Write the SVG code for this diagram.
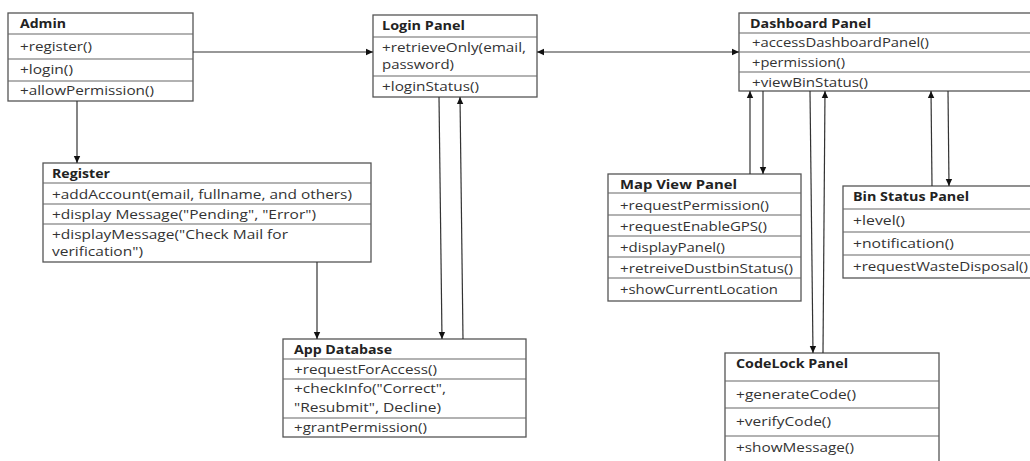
<svg xmlns="http://www.w3.org/2000/svg" width="1030" height="461" viewBox="0 0 1030 461">
<style>
.box{fill:#fff;stroke:#555;stroke-width:1.3}
.div{stroke:#666;stroke-width:1.2}
text{font-family:"Open Sans","Liberation Sans",sans-serif;font-size:12.5px;fill:#333}
.h{font-weight:bold;fill:#222}
.c{stroke:#333;stroke-width:1.2;fill:none}
</style>
<defs>
<marker id="ah" markerWidth="8" markerHeight="8" refX="7" refY="4" orient="auto" markerUnits="userSpaceOnUse"><path d="M0,0.8 L7,4 L0,7.2 z" fill="#111"/></marker>
<marker id="as" markerWidth="8" markerHeight="8" refX="7" refY="4" orient="auto-start-reverse" markerUnits="userSpaceOnUse"><path d="M0,0.8 L7,4 L0,7.2 z" fill="#111"/></marker>
</defs>
<rect width="1030" height="461" fill="#fff"/>

<g id="admin">
<rect class="box" x="8" y="13" width="185" height="88"/>
<line class="div" x1="8" y1="34" x2="193" y2="34"/>
<line class="div" x1="8" y1="59" x2="193" y2="59"/>
<line class="div" x1="8" y1="81" x2="193" y2="81"/>
<text class="h" x="20" y="28" textLength="46" lengthAdjust="spacingAndGlyphs">Admin</text>
<text x="20" y="51" textLength="72" lengthAdjust="spacingAndGlyphs">+register()</text>
<text x="20" y="74" textLength="53" lengthAdjust="spacingAndGlyphs">+login()</text>
<text x="20" y="95" textLength="134" lengthAdjust="spacingAndGlyphs">+allowPermission()</text>
</g>

<g id="login">
<rect class="box" x="373" y="15" width="164" height="82"/>
<line class="div" x1="373" y1="37" x2="537" y2="37"/>
<line class="div" x1="373" y1="76" x2="537" y2="76"/>
<text class="h" x="382" y="30" textLength="83" lengthAdjust="spacingAndGlyphs">Login Panel</text>
<text x="382" y="52" textLength="144" lengthAdjust="spacingAndGlyphs">+retrieveOnly(email,</text>
<text x="382" y="69" textLength="72" lengthAdjust="spacingAndGlyphs">password)</text>
<text x="382" y="91" textLength="97" lengthAdjust="spacingAndGlyphs">+loginStatus()</text>
</g>

<g id="dashboard">
<rect class="box" x="739" y="13" width="300" height="78"/>
<line class="div" x1="739" y1="33" x2="1039" y2="33"/>
<line class="div" x1="739" y1="52" x2="1039" y2="52"/>
<line class="div" x1="739" y1="72" x2="1039" y2="72"/>
<text class="h" x="750" y="28" textLength="121" lengthAdjust="spacingAndGlyphs">Dashboard Panel</text>
<text x="752" y="47" textLength="177" lengthAdjust="spacingAndGlyphs">+accessDashboardPanel()</text>
<text x="752" y="67" textLength="93" lengthAdjust="spacingAndGlyphs">+permission()</text>
<text x="752" y="87" textLength="116" lengthAdjust="spacingAndGlyphs">+viewBinStatus()</text>
</g>

<g id="register">
<rect class="box" x="43" y="163" width="328" height="99"/>
<line class="div" x1="43" y1="183" x2="371" y2="183"/>
<line class="div" x1="43" y1="204" x2="371" y2="204"/>
<line class="div" x1="43" y1="224" x2="371" y2="224"/>
<text class="h" x="52" y="178" textLength="58" lengthAdjust="spacingAndGlyphs">Register</text>
<text x="52" y="199" textLength="300" lengthAdjust="spacingAndGlyphs">+addAccount(email, fullname, and others)</text>
<text x="52" y="219" textLength="264" lengthAdjust="spacingAndGlyphs">+display Message("Pending", "Error")</text>
<text x="52" y="239" textLength="236" lengthAdjust="spacingAndGlyphs">+displayMessage("Check Mail for</text>
<text x="52" y="256" textLength="91" lengthAdjust="spacingAndGlyphs">verification")</text>
</g>

<g id="mapview">
<rect class="box" x="608" y="174" width="193" height="127"/>
<line class="div" x1="608" y1="193" x2="801" y2="193"/>
<line class="div" x1="608" y1="215" x2="801" y2="215"/>
<line class="div" x1="608" y1="236" x2="801" y2="236"/>
<line class="div" x1="608" y1="257" x2="801" y2="257"/>
<line class="div" x1="608" y1="278" x2="801" y2="278"/>
<text class="h" x="620" y="189" textLength="117" lengthAdjust="spacingAndGlyphs">Map View Panel</text>
<text x="620" y="210" textLength="149" lengthAdjust="spacingAndGlyphs">+requestPermission()</text>
<text x="620" y="231" textLength="147" lengthAdjust="spacingAndGlyphs">+requestEnableGPS()</text>
<text x="620" y="252" textLength="105" lengthAdjust="spacingAndGlyphs">+displayPanel()</text>
<text x="620" y="273" textLength="173" lengthAdjust="spacingAndGlyphs">+retreiveDustbinStatus()</text>
<text x="620" y="294" textLength="158" lengthAdjust="spacingAndGlyphs">+showCurrentLocation</text>
</g>

<g id="binstatus">
<rect class="box" x="843" y="186" width="196" height="92"/>
<line class="div" x1="843" y1="209" x2="1039" y2="209"/>
<line class="div" x1="843" y1="232" x2="1039" y2="232"/>
<line class="div" x1="843" y1="255" x2="1039" y2="255"/>
<text class="h" x="853" y="201" textLength="116" lengthAdjust="spacingAndGlyphs">Bin Status Panel</text>
<text x="853" y="225" textLength="52" lengthAdjust="spacingAndGlyphs">+level()</text>
<text x="853" y="248" textLength="101" lengthAdjust="spacingAndGlyphs">+notification()</text>
<text x="853" y="271" textLength="175" lengthAdjust="spacingAndGlyphs">+requestWasteDisposal()</text>
</g>

<g id="appdatabase">
<rect class="box" x="283" y="339" width="243" height="98"/>
<line class="div" x1="283" y1="359" x2="526" y2="359"/>
<line class="div" x1="283" y1="379" x2="526" y2="379"/>
<line class="div" x1="283" y1="418" x2="526" y2="418"/>
<text class="h" x="294" y="354" textLength="98" lengthAdjust="spacingAndGlyphs">App Database</text>
<text x="294" y="374" textLength="143" lengthAdjust="spacingAndGlyphs">+requestForAccess()</text>
<text x="294" y="393" textLength="152" lengthAdjust="spacingAndGlyphs">+checkInfo("Correct",</text>
<text x="294" y="412" textLength="147" lengthAdjust="spacingAndGlyphs">"Resubmit", Decline)</text>
<text x="294" y="432" textLength="133" lengthAdjust="spacingAndGlyphs">+grantPermission()</text>
</g>

<g id="codelock">
<rect class="box" x="725" y="353" width="214" height="115"/>
<line class="div" x1="725" y1="381" x2="939" y2="381"/>
<line class="div" x1="725" y1="408" x2="939" y2="408"/>
<line class="div" x1="725" y1="436" x2="939" y2="436"/>
<text class="h" x="736" y="368" textLength="112" lengthAdjust="spacingAndGlyphs">CodeLock Panel</text>
<text x="736" y="399" textLength="120" lengthAdjust="spacingAndGlyphs">+generateCode()</text>
<text x="736" y="426" textLength="95" lengthAdjust="spacingAndGlyphs">+verifyCode()</text>
<text x="736" y="452" textLength="118" lengthAdjust="spacingAndGlyphs">+showMessage()</text>
</g>

<g id="connectors">
<line class="c" x1="193" y1="52" x2="373" y2="52" marker-end="url(#ah)"/>
<line class="c" x1="77" y1="101" x2="77" y2="163" marker-end="url(#ah)"/>
<line class="c" x1="317" y1="262" x2="317" y2="339" marker-end="url(#ah)"/>
<line class="c" x1="537" y1="52" x2="739" y2="52" marker-start="url(#as)" marker-end="url(#ah)"/>
<line class="c" x1="439" y1="97" x2="442" y2="339" marker-end="url(#ah)"/>
<line class="c" x1="463" y1="339" x2="460" y2="97" marker-end="url(#ah)"/>
<line class="c" x1="750" y1="174" x2="750" y2="91" marker-end="url(#ah)"/>
<line class="c" x1="763" y1="91" x2="763" y2="174" marker-end="url(#ah)"/>
<line class="c" x1="810" y1="91" x2="813" y2="353" marker-end="url(#ah)"/>
<line class="c" x1="823" y1="353" x2="825" y2="91" marker-end="url(#ah)"/>
<line class="c" x1="932" y1="186" x2="931" y2="91" marker-end="url(#ah)"/>
<line class="c" x1="948" y1="91" x2="949" y2="186" marker-end="url(#ah)"/>
</g>
</svg>
